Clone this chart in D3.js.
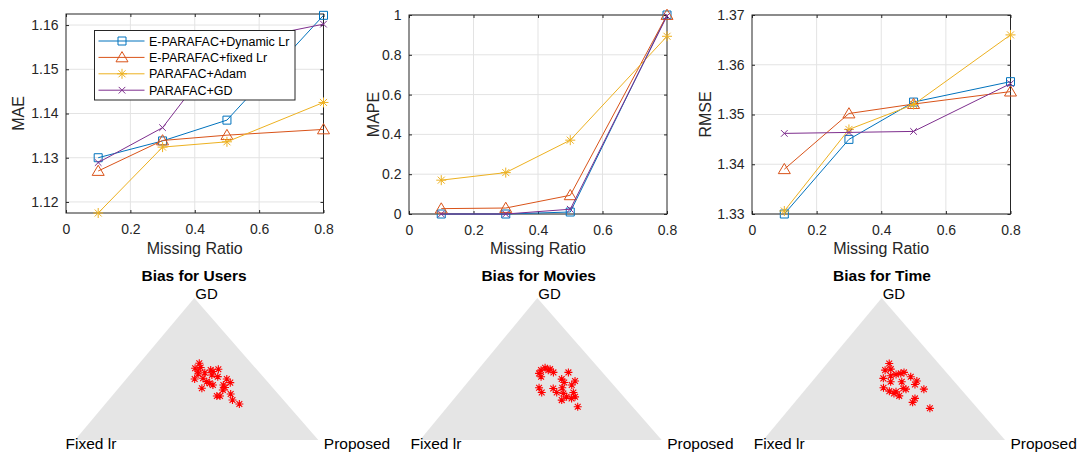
<!DOCTYPE html>
<html>
<head>
<meta charset="utf-8">
<script src="https://cdn.jsdelivr.net/npm/d3@7"></script>
<style>
  body { margin: 0; background: #fff; }
  text { font-family: "Liberation Sans", Arial, sans-serif; }
</style>
</head>
<body>
<div id="chart"></div>
<script>
// ---- data ----
const missingRatio = [0.1, 0.3, 0.5, 0.8];
const methodNames = ['E-PARAFAC+Dynamic Lr', 'E-PARAFAC+fixed Lr', 'PARAFAC+Adam', 'PARAFAC+GD'];

const maeDynamic = [1.1300, 1.1338, 1.1385, 1.1622];
const maeFixed   = [1.1270, 1.1339, 1.1351, 1.1364];
const maeAdam    = [1.1175, 1.1324, 1.1336, 1.1425];
const maeGD      = [1.1289, 1.1368, 1.1558, 1.1602];

const mapeDynamic = [0.000, 0.000, 0.010, 1.000];
const mapeFixed   = [0.027, 0.030, 0.094, 1.000];
const mapeAdam    = [0.170, 0.208, 0.371, 0.893];
const mapeGD      = [0.000, 0.000, 0.024, 0.995];

const rmseDynamic = [1.3300, 1.3450, 1.3525, 1.3566];
const rmseFixed   = [1.3390, 1.3502, 1.3521, 1.3546];
const rmseAdam    = [1.3306, 1.3470, 1.3520, 1.3660];
const rmseGD      = [1.3462, 1.3464, 1.3466, 1.3562];

const xTicks = [0, 0.2, 0.4, 0.6, 0.8];
const maeTicks = [1.12, 1.13, 1.14, 1.15, 1.16];
const mapeTicks = [0, 0.2, 0.4, 0.6, 0.8, 1];
const rmseTicks = [1.33, 1.34, 1.35, 1.36, 1.37];

// ternary points: [GD share, Proposed share], Fixed lr = 1 - GD - Proposed
const usersBias = [
  [0.540, 0.246], [0.505, 0.246], [0.511, 0.266], [0.430, 0.281], [0.465, 0.278],
  [0.435, 0.313], [0.474, 0.301], [0.493, 0.316], [0.498, 0.345], [0.458, 0.338],
  [0.446, 0.368], [0.411, 0.340], [0.387, 0.377], [0.364, 0.343], [0.399, 0.358],
  [0.430, 0.413], [0.404, 0.440], [0.387, 0.420], [0.352, 0.435], [0.370, 0.435],
  [0.310, 0.431], [0.310, 0.444], [0.324, 0.481], [0.282, 0.509], [0.254, 0.551],
  [0.482, 0.331], [0.486, 0.267]
];
const moviesBias = [
  [0.508, 0.271], [0.492, 0.262], [0.492, 0.292], [0.469, 0.265], [0.476, 0.321],
  [0.445, 0.285], [0.476, 0.383], [0.429, 0.378], [0.405, 0.400], [0.415, 0.440],
  [0.387, 0.440], [0.368, 0.314], [0.335, 0.341], [0.363, 0.375], [0.335, 0.403],
  [0.328, 0.434], [0.335, 0.472], [0.304, 0.494], [0.304, 0.459], [0.281, 0.450],
  [0.293, 0.485], [0.234, 0.539], [0.368, 0.410], [0.499, 0.296]
];
const timeBias = [
  [0.539, 0.257], [0.492, 0.263], [0.499, 0.283], [0.434, 0.284], [0.452, 0.306],
  [0.462, 0.323], [0.469, 0.339], [0.476, 0.349], [0.445, 0.392], [0.415, 0.432],
  [0.391, 0.436], [0.410, 0.372], [0.410, 0.326], [0.368, 0.317], [0.344, 0.353],
  [0.328, 0.380], [0.311, 0.410], [0.363, 0.401], [0.358, 0.415], [0.358, 0.489],
  [0.293, 0.484], [0.265, 0.488], [0.223, 0.580], [0.339, 0.383]
];
const vertexLabels = ['GD', 'Fixed lr', 'Proposed'];

// ---- style ----
const colors = ['#0072bd', '#d95319', '#edb120', '#7e2f8e'];
const axisColor = '#262626';
const gridColor = '#e3e3e3';

const width = 1078, height = 452;
const svg = d3.select('#chart').append('svg')
  .attr('width', width).attr('height', height);

// marker paths (MATLAB style)
const markers = [
  s => `M${-s},${-s}H${s}V${s}H${-s}Z`,                                  // square
  s => `M0,${-s * 1.45}L${s * 1.5},${s * 1.1}L${-s * 1.5},${s * 1.1}Z`,    // triangle
  s => { const r = s * 1.25, q = r * 0.7;                                  // asterisk
         return `M${-r},0H${r}M0,${-r}V${r}M${-q},${-q}L${q},${q}M${-q},${q}L${q},${-q}`; },
  s => `M${-s},${-s}L${s},${s}M${-s},${s}L${s},${-s}`                     // x
];
const markerSize = [4, 4, 4, 3.3];

const plots = [
  { left: 66, right: 323.5, top: 14, bottom: 213, yDomain: [1.1175, 1.1625], yTicks: maeTicks,
    fmt: d => d.toFixed(2), label: 'MAE', labelX: 18, series: [maeDynamic, maeFixed, maeAdam, maeGD], legend: true },
  { left: 409, right: 667, top: 15, bottom: 214, yDomain: [0, 1], yTicks: mapeTicks,
    fmt: d => String(d), label: 'MAPE', labelX: 373, series: [mapeDynamic, mapeFixed, mapeAdam, mapeGD] },
  { left: 752, right: 1010.5, top: 15, bottom: 214, yDomain: [1.33, 1.37], yTicks: rmseTicks,
    fmt: d => d.toFixed(2), label: 'RMSE', labelX: 705, series: [rmseDynamic, rmseFixed, rmseAdam, rmseGD] }
];

plots.forEach(p => {
  const x = d3.scaleLinear().domain([0, 0.8]).range([p.left, p.right]);
  const y = d3.scaleLinear().domain(p.yDomain).range([p.bottom, p.top]);
  const g = svg.append('g');

  // grid
  g.append('g').selectAll('line').data(xTicks.slice(1, -1)).join('line')
    .attr('x1', d => x(d)).attr('x2', d => x(d)).attr('y1', p.top).attr('y2', p.bottom)
    .attr('stroke', gridColor);
  g.append('g').selectAll('line').data(p.yTicks).join('line')
    .attr('x1', p.left).attr('x2', p.right).attr('y1', d => y(d)).attr('y2', d => y(d))
    .attr('stroke', gridColor);

  // axes (ticks inward)
  const styleAxis = sel => {
    sel.select('.domain').remove();
    sel.selectAll('line').attr('stroke', axisColor);
    sel.selectAll('text').attr('fill', axisColor).style('font-size', '14px')
      .style('font-family', '"Liberation Sans", Arial, sans-serif');
  };
  g.append('g').attr('transform', `translate(0,${p.bottom})`)
    .call(d3.axisBottom(x).tickValues(xTicks).tickSize(-3).tickPadding(11.5).tickFormat(d => String(d)))
    .call(styleAxis);
  g.append('g').attr('transform', `translate(0,${p.top})`)
    .call(d3.axisTop(x).tickValues(xTicks).tickSize(-3).tickFormat(''))
    .call(styleAxis);
  g.append('g').attr('transform', `translate(${p.left},0)`)
    .call(d3.axisLeft(y).tickValues(p.yTicks).tickSize(-3).tickPadding(7.5).tickFormat(p.fmt))
    .call(styleAxis);
  g.append('g').attr('transform', `translate(${p.right},0)`)
    .call(d3.axisRight(y).tickValues(p.yTicks).tickSize(-3).tickFormat(''))
    .call(styleAxis);

  g.append('rect')
    .attr('x', p.left).attr('y', p.top)
    .attr('width', p.right - p.left).attr('height', p.bottom - p.top)
    .attr('fill', 'none').attr('stroke', axisColor).attr('stroke-width', 1);

  // labels
  g.append('text')
    .attr('x', (p.left + p.right) / 2).attr('y', 254)
    .attr('text-anchor', 'middle').attr('fill', axisColor).style('font-size', '16px')
    .text('Missing Ratio');
  g.append('text')
    .attr('transform', `translate(${p.labelX + 6},${(p.top + p.bottom) / 2}) rotate(-90)`)
    .attr('text-anchor', 'middle').attr('fill', axisColor).style('font-size', '16px')
    .text(p.label);

  // series
  const line = d3.line().x((d, i) => x(missingRatio[i])).y(d => y(d));
  p.series.forEach((vals, k) => {
    g.append('path').datum(vals)
      .attr('d', line).attr('fill', 'none')
      .attr('stroke', colors[k]).attr('stroke-width', 1);
    g.append('g').selectAll('path').data(vals).join('path')
      .attr('transform', (d, i) => `translate(${x(missingRatio[i])},${y(d)})`)
      .attr('d', markers[k](markerSize[k]))
      .attr('fill', 'none').attr('stroke', colors[k]).attr('stroke-width', 1);
  });

  // legend
  if (p.legend) {
    const lg = g.append('g');
    lg.append('rect').attr('x', 94.5).attr('y', 30.5).attr('width', 200.5).attr('height', 69.5)
      .attr('fill', '#fff').attr('stroke', axisColor).attr('stroke-width', 1);
    methodNames.forEach((name, k) => {
      const ly = 41 + k * 16.4;
      lg.append('line').attr('x1', 98.5).attr('x2', 144.5).attr('y1', ly).attr('y2', ly)
        .attr('stroke', colors[k]).attr('stroke-width', 1);
      lg.append('path').attr('transform', `translate(122,${ly})`)
        .attr('d', markers[k](markerSize[k]))
        .attr('fill', 'none').attr('stroke', colors[k]).attr('stroke-width', 1);
      lg.append('text').attr('x', 149).attr('y', ly + 4.5)
        .attr('fill', '#000').style('font-size', '12.5px').text(name);
    });
  }
});

// ---- ternary panels ----
const ternaryPanels = [
  { title: 'Bias for Users',  data: usersBias,  bl: 75,    br: 318.3, apexX: 194.3, titleX: 194 },
  { title: 'Bias for Movies', data: moviesBias, bl: 420,   br: 661.7, apexX: 537.3, titleX: 538.7 },
  { title: 'Bias for Time',   data: timeBias,   bl: 763.3, br: 1005,  apexX: 881.7, titleX: 882 }
];
const baseY = 440, apexY = 298;
const starPath = (() => { const r = 4, q = 2.9;
  return `M${-r},0H${r}M0,${-r}V${r}M${-q},${-q}L${q},${q}M${-q},${q}L${q},${-q}`; })();

ternaryPanels.forEach(t => {
  const tx = d3.scaleLinear().domain([0, 1]).range([t.bl, t.br]);
  const ty = d3.scaleLinear().domain([0, 1]).range([baseY, apexY]);
  const apexFrac = (t.apexX - t.bl) / (t.br - t.bl);
  const proj = (gd, pr) => [tx(pr + gd * apexFrac), ty(gd)];
  const g = svg.append('g');

  const corners = [proj(0, 0), proj(0, 1), proj(1, 0)];
  g.append('path')
    .attr('d', 'M' + corners.map(c => c.join(',')).join('L') + 'Z')
    .attr('fill', '#e5e5e5');

  g.selectAll('path.pt').data(t.data).join('path')
    .attr('class', 'pt')
    .attr('transform', d => `translate(${proj(d[0], d[1]).join(',')})`)
    .attr('d', starPath)
    .attr('stroke', '#ff0000').attr('stroke-width', 1.1).attr('fill', 'none');

  g.append('text').attr('x', t.titleX).attr('y', 281)
    .attr('text-anchor', 'middle').style('font-size', '15.5px').style('font-weight', 'bold')
    .attr('fill', '#000').text(t.title);
  g.append('text').attr('x', t.apexX + 1).attr('y', 299)
    .style('font-size', '15px').attr('fill', '#000').text(vertexLabels[0]);
  g.append('text').attr('x', t.bl - 9.5).attr('y', 448.5)
    .style('font-size', '15.5px').attr('fill', '#000').text(vertexLabels[1]);
  g.append('text').attr('x', t.br + 5.5).attr('y', 448.5)
    .style('font-size', '15.5px').attr('fill', '#000').text(vertexLabels[2]);
});
</script>
</body>
</html>
